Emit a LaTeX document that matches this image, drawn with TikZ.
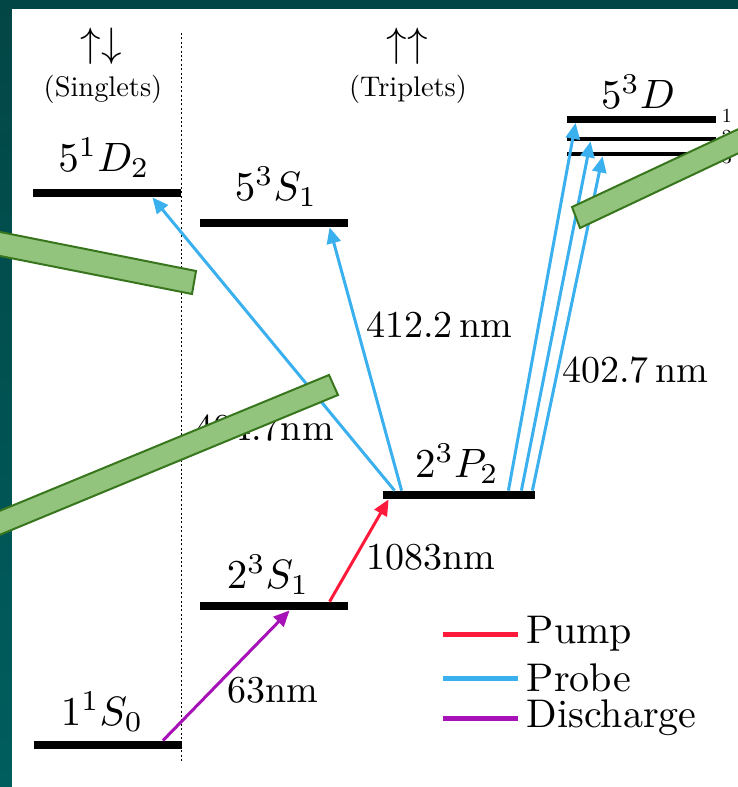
\documentclass[tikz,border=0pt]{standalone}
\usepackage{amsmath}
\usepackage{xcolor}
\usetikzlibrary{positioning, calc, arrows.meta}

\definecolor{slidetop}{HTML}{034646}
\definecolor{slidebot}{HTML}{005E5E}
\definecolor{pumpred}{HTML}{FF1A3C}
\definecolor{probeblue}{HTML}{3BB0EE}
\definecolor{dispurple}{HTML}{A612B8}
\definecolor{bargreen}{HTML}{93C47D}
\definecolor{bardark}{HTML}{38761D}

\begin{document}
\begin{tikzpicture}[x=0.5pt, y=-0.5pt,
    lvlbar/.style={fill=black, inner sep=0pt, minimum height=4pt, minimum width=74pt},
    lvllab/.style={scale=2.05},
    head/.style={scale=1.42},
    wlen/.style={scale=1.9},
    sublab/.style={scale=1, anchor=west, inner sep=0pt},
    trans/.style={line width=1.5pt, -{Triangle[length=8pt, width=7pt]}},
    pump/.style={trans, draw=pumpred},
    probe/.style={trans, draw=probeblue},
    dis/.style={trans, draw=dispurple},
    keyline/.style={line width=2.5pt},
    keytext/.style={scale=2, anchor=west, inner sep=2pt},
    bar/.style={fill=bargreen, draw=bardark, line width=1pt}]

      % Slide background
      \useasboundingbox (0,0) rectangle (738,787);
      \clip (0,0) rectangle (738,787);
      \shade[top color=slidetop, bottom color=slidebot] (0,0) rectangle (738,787);
      \fill[white] (12,9) rectangle (738,787);

      % Singlet / triplet columns
      \coordinate (sepTop) at (181,33);
      \coordinate (sepBot) at (181,762);
      \draw[line width=0.5pt, dash pattern=on 1pt off 1.2pt] (sepTop) -- (sepBot);
      \node[lvllab] (spinS) at (101,46) {$\uparrow\downarrow$};
      \node[head] (singlets) at (103,89) {(Singlets)};
      \node[lvllab] (spinT) at (407,46) {$\uparrow\uparrow$};
      \node[head] (triplets) at (408,89) {(Triplets)};

      % Levels
      \node[lvlbar] (D52) at (107,193) {};
      \node[lvlbar] (S51) at (274,223) {};
      \node[lvlbar, minimum width=74.5pt, minimum height=3.5pt] (D5a) at (641.5,119) {};
      \node[lvlbar, minimum width=74.5pt, minimum height=2pt] (D5b) at (641.5,139) {};
      \node[lvlbar, minimum width=74.5pt, minimum height=2pt] (D5c) at (641.5,154) {};
      \node[lvlbar, minimum width=76pt] (P2) at (459,495) {};
      \node[lvlbar] (S21) at (274,606) {};
      \node[lvlbar] (S10) at (107.5,745) {};

      \node[lvllab] (D52lab) at (104,158) {$5^1D_2$};
      \node[lvllab] (S51lab) at (276,187) {$5^3S_1$};
      \node[lvllab] (D5lab) at (638,92) {$5^3D$};
      \node[lvllab] (P2lab) at (457,464) {$2^3P_2$};
      \node[lvllab] (S21lab) at (268,575) {$2^3S_1$};
      \node[lvllab] (S10lab) at (102,712) {$1^1S_0$};

      \node[sublab] (j1) at ($(D5a.east)+(5,-3)$) {1};
      \node[sublab] (j2) at ($(D5b.east)+(5,-2)$) {2};
      \node[sublab] (j3) at ($(D5c.east)+(5,3)$) {3};

      % Transitions
      \draw[dis] ($(S10.north east)+(-19,0)$) -- ($(S21.south west)+(90,0)$);
      \draw[pump] ($(S21.north west)+(130,0)$) -- ($(P2.south west)+(6,0)$);
      \draw[probe] ($(P2.north west)+(12,0)$) -- ($(D52.south east)+(-29,0)$);
      \draw[probe] ($(P2.north west)+(19,0)$) -- ($(S51.south west)+(130,0)$);
      \draw[probe] ($(P2.north east)+(-27,0)$) -- ($(D5a.south west)+(9,0)$);
      \draw[probe] ($(P2.north east)+(-14,0)$) -- ($(D5b.south west)+(24,0)$);
      \draw[probe] ($(P2.north east)+(-3,0)$) -- ($(D5c.south west)+(36,0)$);

      \node[wlen] (wl63) at (273,690) {63nm};
      \node[wlen] (wl1083) at (431,557) {1083nm};
      \node[wlen] (wl412) at (439,325) {412.2\,nm};
      \node[wlen] (wl402) at (635,370) {402.7\,nm};
      \node[wlen] (wl404) at (264,428) {404.7nm};

      % Legend
      \coordinate (kp1) at (443,634);
      \coordinate (kp2) at (518,634);
      \coordinate (kb1) at (443,678);
      \coordinate (kb2) at (518,678);
      \coordinate (kd1) at (443,718);
      \coordinate (kd2) at (518,718);
      \draw[keyline, pumpred] (kp1) -- (kp2);
      \draw[keyline, probeblue] (kb1) -- (kb2);
      \draw[keyline, dispurple] (kd1) -- (kd2);
      \node[keytext] (kpump) at (kp2) {Pump};
      \node[keytext] (kprobe) at (kb2) {Probe};
      \node[keytext] (kdis) at (kd2) {Discharge};

      % Bars over the slide
      \draw[bar] (-20,228) -- (196,271) -- (192,294) -- (-20,252) -- cycle;
      \draw[bar] (-20,519) -- (329,375) -- (338,395) -- (-20,543) -- cycle;
      \draw[bar] (572,207) -- (760,119) -- (760,143) -- (580,228) -- cycle;
    \end{tikzpicture}
\end{document}
